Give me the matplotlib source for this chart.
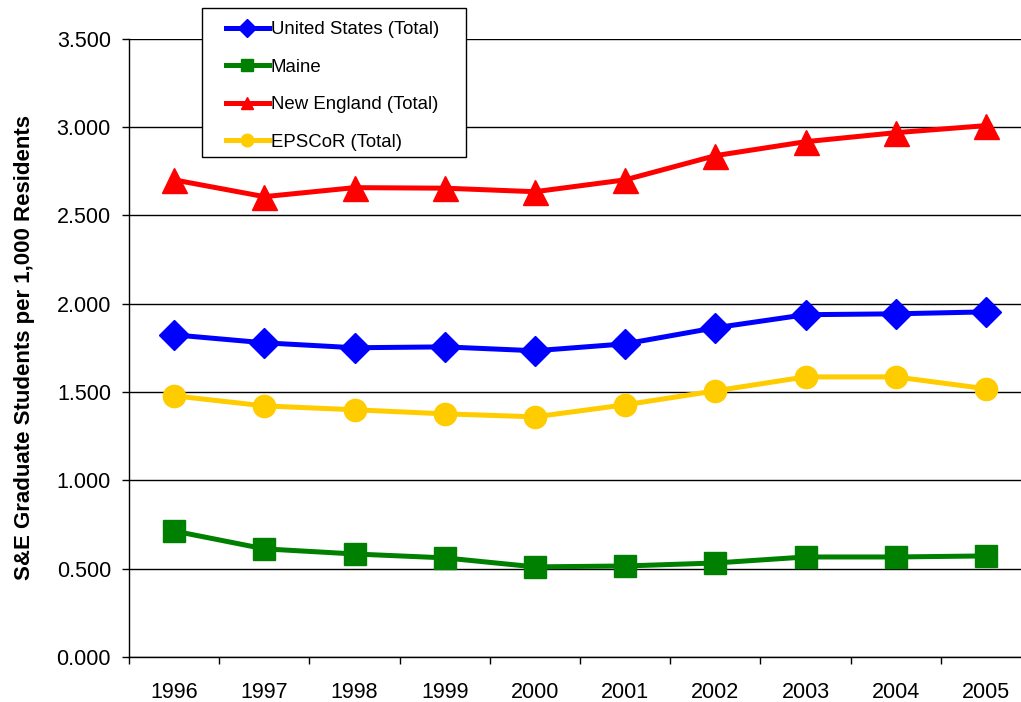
import matplotlib.pyplot as plt
import numpy as np
from matplotlib.ticker import FormatStrFormatter
from matplotlib.patches import Rectangle

plt.rcParams['font.family'] = ['Liberation Sans', 'DejaVu Sans']

years = ['1996', '1997', '1998', '1999', '2000', '2001', '2002', '2003', '2004', '2005']
us_total = [1.823, 1.778, 1.750, 1.755, 1.733, 1.772, 1.863, 1.937, 1.942, 1.953]
maine = [0.713, 0.612, 0.583, 0.561, 0.510, 0.515, 0.532, 0.566, 0.566, 0.572]
new_england = [2.700, 2.605, 2.656, 2.653, 2.633, 2.700, 2.837, 2.916, 2.967, 3.007]
epscor = [1.478, 1.421, 1.399, 1.376, 1.359, 1.427, 1.506, 1.585, 1.585, 1.518]

W, H = 1021, 702
fig = plt.figure(figsize=(W / 100, H / 100), dpi=100)
ax = fig.add_axes([129 / W, 1 - 657 / H, 902 / W, (657 - 38.5) / H])

x = np.arange(len(years))
l1, = ax.plot(x, us_total, '-D', color='#0000FF', lw=3.6, ms=15, label='United States (Total)', zorder=3)
l2, = ax.plot(x, maine, '-s', color='#008000', lw=3.6, ms=16, label='Maine', zorder=3)
l3, = ax.plot(x, new_england, '-^', color='#FF0000', lw=3.6, ms=18, label='New England (Total)', zorder=3)
l4, = ax.plot(x, epscor, '-o', color='#FFCC00', lw=3.6, ms=16, label='EPSCoR (Total)', zorder=3)

ax.set_xlim(-0.5, len(years) - 0.5)
ax.set_ylim(0, 3.5)
ax.set_yticks(np.arange(0, 3.51, 0.5))
ax.yaxis.set_major_formatter(FormatStrFormatter('%.3f'))
ax.set_xticks(x)
ax.set_xticklabels(years)
ax.set_xticks(np.arange(-0.5, len(years)), minor=True)
ax.tick_params(axis='x', which='major', length=0, pad=18, labelsize=15.5)
ax.tick_params(axis='x', which='minor', length=5, width=1, direction='out')
ax.tick_params(axis='y', length=5, width=1, direction='out', labelsize=15.5, pad=8)

ax.grid(axis='y', color='black', lw=1)
ax.set_axisbelow(True)
for s in ['top', 'right']:
    ax.spines[s].set_visible(False)
for s in ['left', 'bottom']:
    ax.spines[s].set_color('black')
    ax.spines[s].set_linewidth(1)

ax.set_ylabel('S&E Graduate Students per 1,000 Residents', fontsize=16, fontweight='bold')
ax.yaxis.set_label_coords(-0.1045, 0.5)

# legend box drawn separately so the horizontal padding can be wider
fig.patches.append(Rectangle((202 / W, 1 - 157 / H), 264 / W, 149 / H,
                             transform=fig.transFigure, facecolor='white',
                             edgecolor='black', lw=1, zorder=4))
leg = fig.legend(handles=[l1, l2, l3, l4], loc='upper left',
                 bbox_to_anchor=(226 / W, 1 - 21 / H), fontsize=13.4,
                 frameon=False, handlelength=2.3, handletextpad=0.1,
                 labelspacing=1.1, borderpad=0, borderaxespad=0)
leg.set_zorder(5)
for h in leg.legend_handles:
    h.set_markersize(9)

fig.savefig('out.png', dpi=100)
